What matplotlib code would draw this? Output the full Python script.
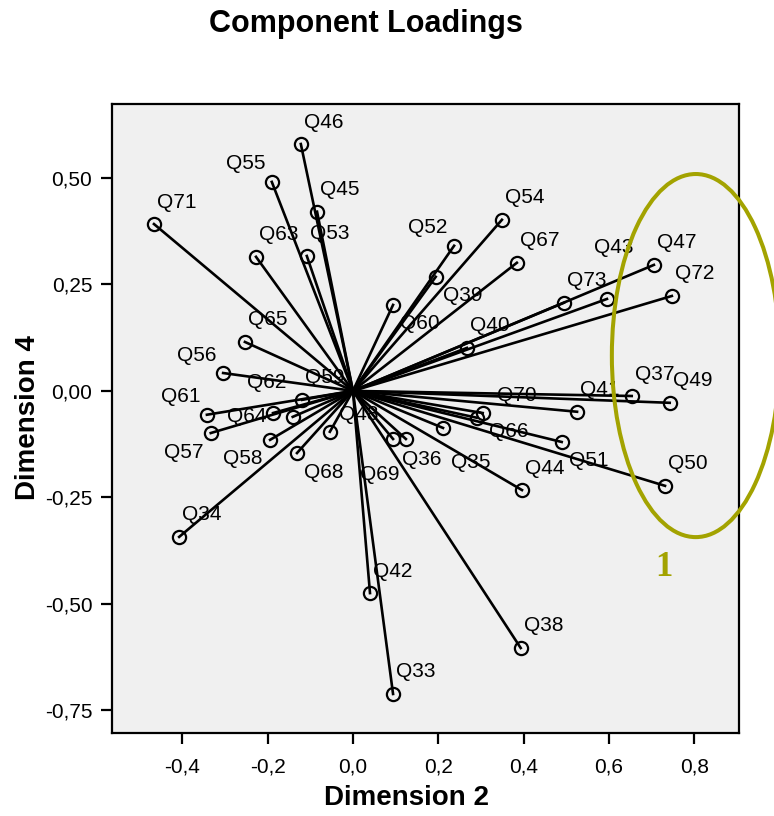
import matplotlib.pyplot as plt
from matplotlib.patches import Ellipse

plt.rcParams['font.family'] = ['Liberation Sans', 'DejaVu Sans']

# component loadings (dimension 2 / dimension 4)
items = ["Q33", "Q34", "Q35", "Q36", "Q37", "Q38", "Q39", "Q40", "Q41", "Q42",
         "Q43", "Q44", "Q45", "Q46", "Q47", "Q48", "Q49", "Q50", "Q51", "Q52",
         "Q53", "Q54", "Q55", "Q56", "Q57", "Q58", "Q59", "Q60", "Q61", "Q62",
         "Q63", "Q64", "Q65", "Q66", "Q67", "Q68", "Q69", "Q70", "Q71", "Q72", "Q73"]
dim2 = [0.094, -0.407, 0.211, 0.094, 0.653, 0.393, 0.194, 0.267, 0.525, 0.040,
        0.595, 0.396, -0.084, -0.122, 0.705, -0.054, 0.742, 0.731, 0.489, 0.237,
        -0.108, 0.349, -0.190, -0.304, -0.333, -0.194, -0.119, 0.094, -0.342, -0.141,
        -0.227, -0.187, -0.253, 0.290, 0.384, -0.131, 0.124, 0.304, -0.466, 0.747, 0.494]
dim4 = [-0.712, -0.343, -0.087, -0.113, -0.012, -0.604, 0.268, 0.101, -0.049, -0.475,
        0.216, -0.233, 0.421, 0.580, 0.296, -0.096, -0.028, -0.223, -0.120, 0.341,
        0.317, 0.402, 0.491, 0.042, -0.099, -0.115, -0.021, 0.202, -0.056, -0.061,
        0.315, -0.052, 0.115, -0.063, 0.301, -0.146, -0.113, -0.052, 0.392, 0.223, 0.207]

xticks = [-0.4, -0.2, 0.0, 0.2, 0.4, 0.6, 0.8]
xticklabels = ["-0,4", "-0,2", "0,0", "0,2", "0,4", "0,6", "0,8"]
yticks = [-0.75, -0.50, -0.25, 0.00, 0.25, 0.50]
yticklabels = ["-0,75", "-0,50", "-0,25", "0,00", "0,25", "0,50"]

# where the label sits relative to its point (pixels), default upper right
UL, LR, LL = (-26, 18), (27, -19), (-27, -19)
offsets = {"Q55": UL, "Q52": UL, "Q56": UL, "Q61": UL,
           "Q39": LR, "Q60": LR, "Q68": LR, "Q51": LR,
           "Q57": LL, "Q58": LL,
           "Q43": (7, 51), "Q48": (29, 17), "Q64": (-26, -3), "Q62": (-26, 34),
           "Q70": (34, 18), "Q66": (32, -14), "Q36": (29, -21), "Q35": (28, -35),
           "Q69": (-26, -36)}

W, H = 774, 816
fig = plt.figure(figsize=(W / 100, H / 100), dpi=100)
ax = fig.add_axes([111.7 / W, 1 - 732.7 / H, (739.3 - 111.7) / W, (732.7 - 104) / H])
ax.set_facecolor('#f0f0f0')

for name, x, y in zip(items, dim2, dim4):
    ax.plot([0, x], [0, y], color='black', lw=1.9, zorder=3)
    ax.plot(x, y, 'o', ms=9.5, mfc='none', mec='black', mew=1.6, zorder=4)
    dx, dy = offsets.get(name, (23, 22))
    ax.annotate(name, (x, y), xytext=(dx, dy), textcoords='offset pixels',
                ha='center', va='center', fontsize=15, zorder=2)

ax.set_xlim(-0.565, 0.905)
ax.set_ylim(-0.803, 0.674)
ax.set_xticks(xticks)
ax.set_xticklabels(xticklabels)
ax.set_yticks(yticks)
ax.set_yticklabels(yticklabels)
ax.tick_params(direction='out', length=8, width=1.6, labelsize=15)
ax.tick_params(axis='x', pad=10)
ax.tick_params(axis='y', pad=6)
for s in ax.spines.values():
    s.set_linewidth(1.6)

fig.text(366 / W, 1 - 24 / H, "Component Loadings", ha='center', va='center',
         fontsize=22, fontweight='bold')
fig.text(406 / W, 1 - 798 / H, "Dimension 2", ha='center', va='center',
         fontsize=20, fontweight='bold')
fig.text(28 / W, 1 - 418 / H, "Dimension 4", ha='center', va='center',
         fontsize=20, fontweight='bold', rotation=90)

# highlighted group
olive = '#a3a300'
ax.add_patch(Ellipse((0.803, 0.083), 0.393, 0.853, fill=False, ec=olive,
                     lw=2.9, clip_on=False, zorder=5))
ax.text(0.728, -0.416, "1", color=olive, fontsize=25, fontweight='bold',
        family='Liberation Serif', ha='center', va='center')

fig.savefig("out.png", dpi=100)
